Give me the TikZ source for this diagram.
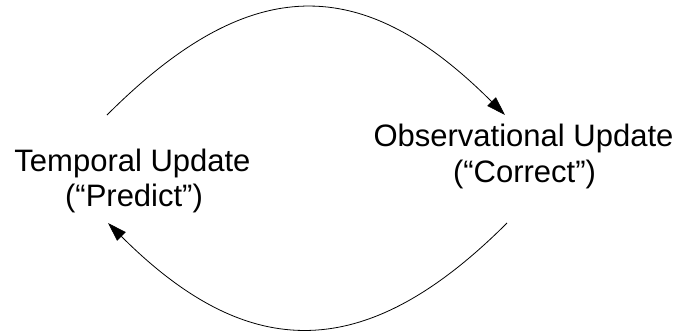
\documentclass[tikz,border=0pt]{standalone}
\usepackage{fontspec}
\setmainfont{Liberation Sans}
\usetikzlibrary{arrows.meta}
\begin{document}
\begin{tikzpicture}[x=1pt,y=-1pt,
  lbl/.style={font=\fontsize{31}{36}\selectfont, anchor=base, inner sep=0pt},
  arc/.style={line width=0.8pt, -{Triangle[length=19pt,width=12pt]}}]
\useasboundingbox (0,0) rectangle (676,333);
\node[lbl] (t1) at (132.5,171) {Temporal Update};
\node[lbl] (t2) at (134,206) {(“Predict”)};
\node[lbl] (o1) at (523.5,146) {Observational Update};
\node[lbl] (o2) at (524.5,182) {(“Correct”)};
\coordinate (a0) at (107,115);
\coordinate (a1) at (505,115);
\coordinate (b0) at (507,223);
\coordinate (b1) at (108,223);
\draw[arc] (a0) .. controls (250,-28) and (362,-28) .. (a1);
\draw[arc] (b0) .. controls (366,364) and (249,364) .. (b1);
\end{tikzpicture}
\end{document}
